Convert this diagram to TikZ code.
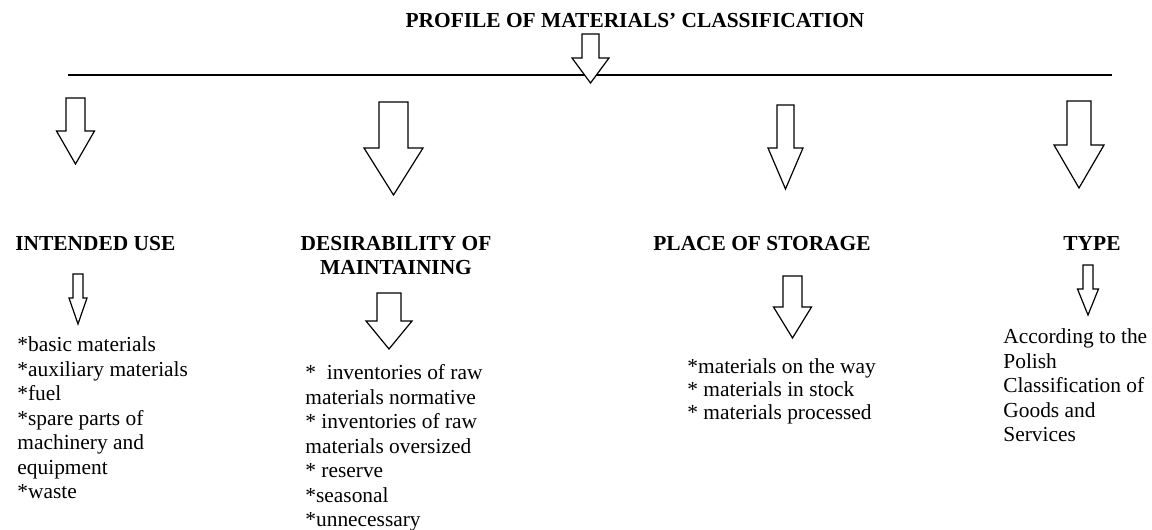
\documentclass[tikz,border=0pt]{standalone}
\usepackage{fontspec}
\setmainfont{Liberation Serif}
\usepackage{tikz}

% block arrow: centre x, top y, half shaft, head y, half head, tip y
\newcommand{\blockarrow}[6]{%
  \filldraw[arrowbox] (#1-#3,#2) -- (#1+#3,#2) -- (#1+#3,#4) -- (#1+#5,#4)
    -- (#1,#6) -- (#1-#5,#4) -- (#1-#3,#4) -- cycle;}

\begin{document}
\begin{tikzpicture}[x=0.5pt,y=-0.5pt,
  arrowbox/.style={draw=black,fill=white,line width=0.6pt,line join=miter},
  heading/.style={font=\fontsize{10.7}{12.25}\selectfont\bfseries,inner sep=0pt},
  itemlist/.style={font=\fontsize{10.7}{12.25}\selectfont,align=left,inner sep=0pt,anchor=north west}]
\useasboundingbox (0,0) rectangle (1152,530);

\node[heading,anchor=base] (title) at (635,27) {PROFILE OF MATERIALS’ CLASSIFICATION};

\coordinate (lineL) at (68,75);
\coordinate (lineR) at (1112,75);
\draw[line width=0.6pt] (lineL) -- (lineR);

% arrows down from the title and the line
\blockarrow{590.5}{34}{8.5}{58}{18.5}{83}
\blockarrow{75.5}{98}{9.5}{131}{19}{164}
\blockarrow{393.5}{102}{14.5}{148}{29.5}{195}
\blockarrow{785.5}{105}{8.5}{148}{17.5}{189}
\blockarrow{1079}{101}{12}{145}{25}{188}

% headings
\node[heading,anchor=base west] (use) at (15,250) {INTENDED USE};
\node[heading,anchor=north,align=center] (desir) at (396,235.5) {DESIRABILITY OF\\MAINTAINING};
\node[heading,anchor=base west] (place) at (653,250) {PLACE OF STORAGE};
\node[heading,anchor=base] (type) at (1092,250) {TYPE};

% arrows down to the lists
\blockarrow{78}{274}{5}{298}{9}{324}
\blockarrow{389}{293}{12}{321}{23}{349}
\blockarrow{792.5}{276}{9.5}{307}{19}{338}
\blockarrow{1088}{265}{5}{289}{10.5}{315}

% lists
\node[itemlist] (uselist) at (17,336.5) {*basic materials\\*auxiliary materials\\*fuel\\*spare parts of\\machinery and\\equipment\\*waste};
\node[itemlist] (desirlist) at (305,364.5) {*\ \ inventories of raw\\materials normative\\* inventories of raw\\materials oversized\\* reserve\\*seasonal\\*unnecessary};
\node[itemlist,font=\fontsize{10.7}{11.5}\selectfont] (placelist) at (687,358.5) {*materials on the way\\* materials in stock\\* materials processed};
\node[itemlist] (typelist) at (1003,328.5) {According to the\\Polish\\Classification of\\Goods and\\Services};
\end{tikzpicture}
\end{document}
